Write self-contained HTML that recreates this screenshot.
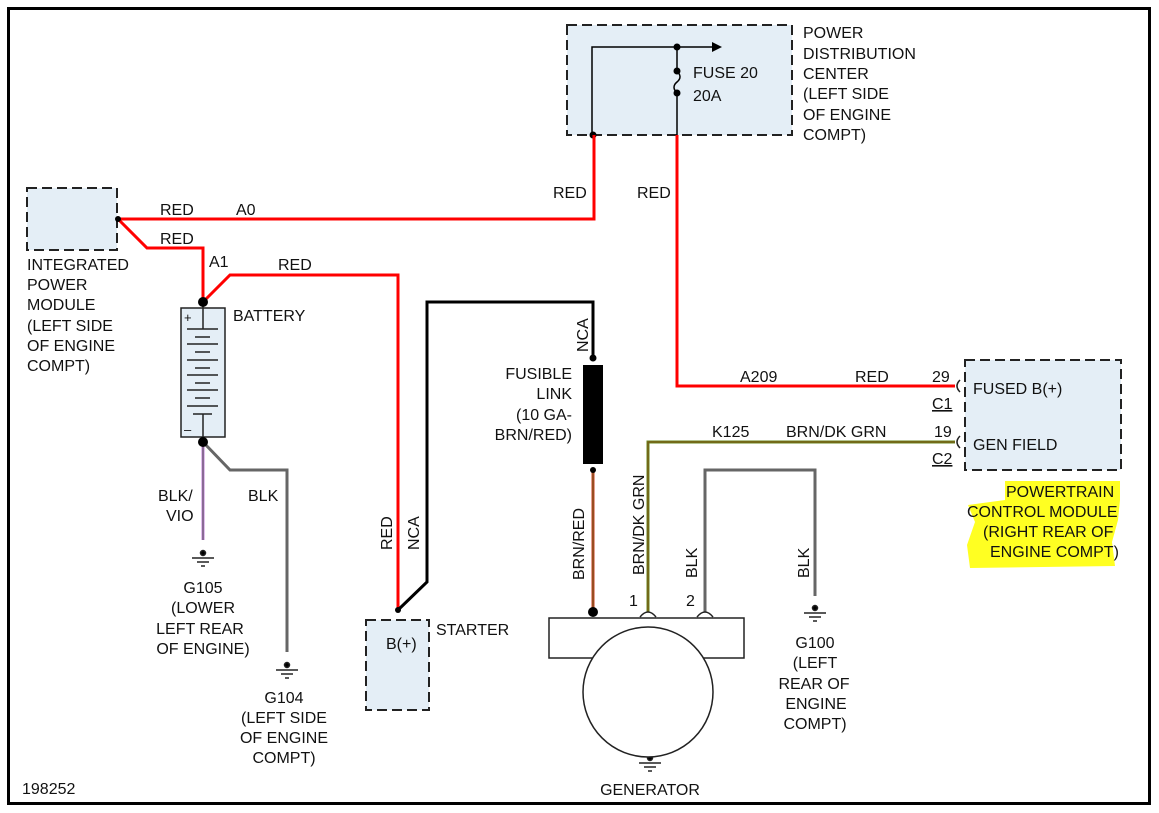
<!DOCTYPE html>
<html><head><meta charset="utf-8"><style>
html,body{margin:0;padding:0;background:#fff;}
svg{display:block;}
text{font-family:"Liberation Sans",Arial,sans-serif;font-size:16px;fill:#111;}
</style></head><body>
<svg width="1159" height="813" viewBox="0 0 1159 813" xmlns="http://www.w3.org/2000/svg">
<rect x="8.5" y="8.5" width="1141" height="795" fill="none" stroke="#000" stroke-width="3"/>

<path d="M1005 481 L1120 481 L1120 500 L1118 520 L1112 542 L1115 566 L970 568 L967 545 L975 522 L968 505 L1005 500 Z" fill="#ffff22"/>

<g fill="#e4eef6" stroke="#222" stroke-width="2" stroke-dasharray="10,5">
<rect x="27" y="188" width="90" height="62"/>
<rect x="567" y="25" width="225" height="110"/>
<rect x="366" y="620" width="63" height="90"/>
<rect x="965" y="360" width="156" height="110"/>
</g>

<g stroke="#000" stroke-width="1.5" fill="none">
<polyline points="592,134 592,47 712,47"/>
<line x1="677" y1="47" x2="677" y2="71"/>
<path d="M677 71 Q683 77 677 82 Q671 87 677 93"/>
<line x1="677" y1="93" x2="677" y2="135"/>
</g>
<polygon points="712,42 722,47 712,52" fill="#000"/>
<circle cx="677" cy="47" r="3.5" fill="#000"/><circle cx="677" cy="71" r="3.5" fill="#000"/><circle cx="677" cy="93" r="3.5" fill="#000"/><circle cx="593" cy="135" r="3.5" fill="#000"/>

<g stroke="#ff0000" stroke-width="3" fill="none">
<polyline points="118,219 594,219 594,135"/>
<polyline points="118,219 147,248 203,248 203,302"/>
<polyline points="203,302 230,275 398,275 398,610"/>
<polyline points="677,135 677,386 955,386"/>
</g>
<circle cx="118" cy="219" r="3" fill="#000"/>

<rect x="181" y="308" width="44" height="129" fill="#e4eef6" stroke="#222" stroke-width="1.5"/>
<g stroke="#222" stroke-width="1.5">
<line x1="203" y1="302" x2="203" y2="329"/>
<line x1="187" y1="329" x2="218" y2="329"/><line x1="195" y1="337" x2="210" y2="337"/>
<line x1="187" y1="344" x2="218" y2="344"/><line x1="195" y1="352" x2="210" y2="352"/>
<line x1="187" y1="360" x2="218" y2="360"/><line x1="195" y1="368" x2="210" y2="368"/>
<line x1="187" y1="375" x2="218" y2="375"/><line x1="195" y1="383" x2="210" y2="383"/>
<line x1="187" y1="390" x2="218" y2="390"/><line x1="195" y1="398" x2="210" y2="398"/>
<line x1="187" y1="406" x2="218" y2="406"/>
<line x1="193" y1="414" x2="212" y2="414"/><line x1="203" y1="414" x2="203" y2="442"/>
</g>
<text x="184" y="322" style="font-size:13px">+</text>
<text x="184" y="434" style="font-size:13px">–</text>
<circle cx="203" cy="302" r="5" fill="#000"/>

<line x1="203" y1="442" x2="203" y2="540" stroke="#c080d8" stroke-width="3"/>
<line x1="203" y1="442" x2="203" y2="540" stroke="#555" stroke-width="1"/>
<polyline points="203,442 230,470 287,470 287,652" stroke="#666" stroke-width="3" fill="none"/>
<circle cx="203" cy="442" r="5" fill="#000"/>

<g stroke="#222" stroke-width="1.5">
<g transform="translate(203,553)"><circle cx="0" cy="0" r="2.5" fill="#000"/><line x1="-11" y1="5" x2="11" y2="5"/><line x1="-6" y1="9" x2="6" y2="9"/><line x1="-2" y1="13" x2="2" y2="13"/></g>
<g transform="translate(287,665)"><circle cx="0" cy="0" r="2.5" fill="#000"/><line x1="-11" y1="5" x2="11" y2="5"/><line x1="-6" y1="9" x2="6" y2="9"/><line x1="-2" y1="13" x2="2" y2="13"/></g>
<g transform="translate(815,608)"><circle cx="0" cy="0" r="2.5" fill="#000"/><line x1="-11" y1="5" x2="11" y2="5"/><line x1="-6" y1="9" x2="6" y2="9"/><line x1="-2" y1="13" x2="2" y2="13"/></g>
<g transform="translate(650,758)"><circle cx="0" cy="0" r="2.5" fill="#000"/><line x1="-11" y1="5" x2="11" y2="5"/><line x1="-6" y1="9" x2="6" y2="9"/><line x1="-2" y1="13" x2="2" y2="13"/></g>
</g>

<polyline points="398,610 427,582 427,302 593,302 593,358" stroke="#000" stroke-width="3" fill="none"/>
<circle cx="398" cy="610" r="3" fill="#000"/>
<circle cx="593" cy="358" r="3.5" fill="#000"/>
<rect x="583" y="365" width="20" height="99" fill="#000"/>
<line x1="593" y1="470" x2="593" y2="612" stroke="#c84020" stroke-width="3"/>
<line x1="593" y1="470" x2="593" y2="612" stroke="#6a5a20" stroke-width="1"/>
<circle cx="593" cy="470" r="3" fill="#000"/>
<circle cx="593" cy="612" r="5" fill="#000"/>

<polyline points="648,612 648,442 955,442" stroke="#6a8a20" stroke-width="3" fill="none"/>
<polyline points="648,612 648,442 955,442" stroke="#7a4a10" stroke-width="1" fill="none"/>
<polyline points="705,612 705,470 815,470 815,596" stroke="#666" stroke-width="3" fill="none"/>

<rect x="549" y="618" width="195" height="40" fill="#fff" stroke="#222" stroke-width="1.5"/>
<circle cx="648" cy="692" r="65" fill="#fff" stroke="#222" stroke-width="1.5"/>
<g stroke="#222" stroke-width="1.5" fill="none">
<path d="M640 617 Q648 607 656 617"/><path d="M697 617 Q705 607 713 617"/>
<path d="M960 380 Q954 386 960 392"/><path d="M960 436 Q954 442 960 448"/>
</g>

<text x="160" y="215">RED</text><text x="236" y="215">A0</text>
<text x="160" y="244">RED</text>
<text x="209" y="267">A1</text><text x="278" y="270">RED</text>
<text x="27" y="270">INTEGRATED</text><text x="27" y="290">POWER</text><text x="27" y="310">MODULE</text>
<text x="27" y="331">(LEFT SIDE</text><text x="27" y="351">OF ENGINE</text><text x="27" y="371">COMPT)</text>
<text x="233" y="321">BATTERY</text>
<text x="553" y="198">RED</text><text x="637" y="198">RED</text>
<text x="693" y="78">FUSE 20</text><text x="693" y="101">20A</text>
<text x="803" y="38">POWER</text><text x="803" y="59">DISTRIBUTION</text><text x="803" y="79">CENTER</text>
<text x="803" y="99">(LEFT SIDE</text><text x="803" y="120">OF ENGINE</text><text x="803" y="140">COMPT)</text>
<text x="158" y="501">BLK/</text><text x="166" y="521">VIO</text>
<text x="248" y="501">BLK</text>
<text x="203" y="593" text-anchor="middle">G105</text><text x="203" y="613" text-anchor="middle">(LOWER</text>
<text x="200" y="634" text-anchor="middle">LEFT REAR</text><text x="203" y="654" text-anchor="middle">OF ENGINE)</text>
<text x="284" y="703" text-anchor="middle">G104</text><text x="284" y="723" text-anchor="middle">(LEFT SIDE</text>
<text x="284" y="743" text-anchor="middle">OF ENGINE</text><text x="284" y="763" text-anchor="middle">COMPT)</text>
<text x="392" y="550" transform="rotate(-90 392 550)">RED</text>
<text x="419" y="550" transform="rotate(-90 419 550)">NCA</text>
<text x="386" y="649">B(+)</text><text x="436" y="635">STARTER</text>
<text x="588" y="352" transform="rotate(-90 588 352)">NCA</text>
<text x="572" y="379" text-anchor="end">FUSIBLE</text><text x="572" y="399" text-anchor="end">LINK</text>
<text x="572" y="420" text-anchor="end">(10 GA-</text><text x="572" y="440" text-anchor="end">BRN/RED)</text>
<text x="584" y="580" transform="rotate(-90 584 580)">BRN/RED</text>
<text x="644" y="575" transform="rotate(-90 644 575)">BRN/DK GRN</text>
<text x="697" y="578" transform="rotate(-90 697 578)">BLK</text>
<text x="809" y="578" transform="rotate(-90 809 578)">BLK</text>
<text x="629" y="606">1</text><text x="686" y="606">2</text>
<text x="740" y="382">A209</text><text x="855" y="382">RED</text>
<text x="712" y="437">K125</text><text x="786" y="437">BRN/DK GRN</text>
<text x="932" y="382">29</text><text x="932" y="409" style="text-decoration:underline">C1</text>
<text x="934" y="437">19</text><text x="932" y="464" style="text-decoration:underline">C2</text>
<text x="973" y="394">FUSED B(+)</text><text x="973" y="450">GEN FIELD</text>
<text x="1006" y="497">POWERTRAIN</text><text x="967" y="517">CONTROL MODULE</text>
<text x="983" y="537">(RIGHT REAR OF</text><text x="990" y="557">ENGINE COMPT)</text>
<text x="815" y="648" text-anchor="middle">G100</text><text x="815" y="668" text-anchor="middle">(LEFT</text>
<text x="814" y="689" text-anchor="middle">REAR OF</text><text x="816" y="709" text-anchor="middle">ENGINE</text>
<text x="815" y="729" text-anchor="middle">COMPT)</text>
<text x="650" y="795" text-anchor="middle">GENERATOR</text>
<text x="22" y="794">198252</text>
</svg>
</body></html>
